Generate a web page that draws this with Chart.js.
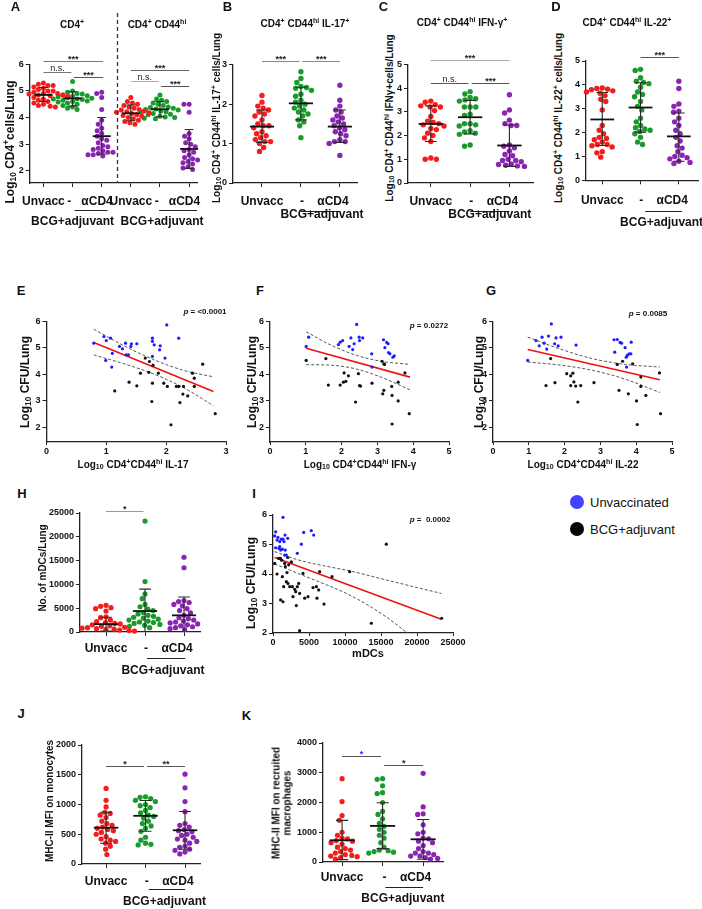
<!DOCTYPE html>
<html lang="en">
<head>
<meta charset="UTF-8">
<title>BCG + adjuvant, CD4 depletion</title>
<script src="https://cdn.jsdelivr.net/npm/chart.js"></script>
<style>
  body { margin: 0; background: #fff; font-family: "Liberation Sans", Arial, sans-serif; }
  #fig { position: relative; width: 702px; height: 909px; overflow: hidden; }
  canvas { position: absolute; }
  .t { position: absolute; z-index: 2; font-weight: bold; white-space: nowrap; line-height: 1; color: #111;
       transform: translate(-50%, -50%); }
  .r { transform: translate(-50%, -50%) rotate(-90deg); text-align: center; }
  .t sup, .t sub { font-size: 70%; line-height: 0; }
  .t sub { vertical-align: -0.2em; }
  .lt { font-size: 13px; }
  .dot { position: absolute; width: 14px; height: 14px; border-radius: 50%; transform: translate(-50%, -50%); }
  .leg { position: absolute; font-size: 13px; transform: translateY(-50%); color: #111; }
</style>
</head>
<body>
<div id="fig">
  <!-- panel letters -->
  <div class="t lt" style="left:15.5px;top:6px">A</div>
  <div class="t lt" style="left:227.5px;top:6px">B</div>
  <div class="t lt" style="left:383.5px;top:6px">C</div>
  <div class="t lt" style="left:556px;top:6px">D</div>
  <div class="t lt" style="left:21px;top:289.5px">E</div>
  <div class="t lt" style="left:260px;top:289.5px">F</div>
  <div class="t lt" style="left:491px;top:289.5px">G</div>
  <div class="t lt" style="left:22px;top:493px">H</div>
  <div class="t lt" style="left:254px;top:493px">I</div>
  <div class="t lt" style="left:21px;top:713px">J</div>
  <div class="t lt" style="left:246.5px;top:714.5px">K</div>

  <!-- titles -->
  <div class="t" style="left:72px;top:25px;font-size:10px">CD4<sup>+</sup></div>
  <div class="t" style="left:157px;top:25px;font-size:10px">CD4<sup>+</sup> CD44<sup>hi</sup></div>
  <div class="t" style="left:305px;top:24px;font-size:10px">CD4<sup>+</sup> CD44<sup>hi</sup> IL-17<sup>+</sup></div>
  <div class="t" style="left:462px;top:23px;font-size:10px">CD4<sup>+</sup> CD44<sup>hi</sup> IFN-γ<sup>+</sup></div>
  <div class="t" style="left:627px;top:23px;font-size:10px">CD4<sup>+</sup> CD44<sup>hi</sup> IL-22<sup>+</sup></div>

  <!-- y axis titles -->
  <div class="t r" style="left:10px;top:142px;font-size:12px">Log<sub>10</sub> CD4<sup>+</sup>cells/Lung</div>
  <div class="t r" style="left:217px;top:118px;font-size:10px">Log<sub>10</sub> CD4<sup>+</sup> CD44<sup>hi</sup> IL-17<sup>+</sup> cells/Lung</div>
  <div class="t r" style="left:390px;top:118px;font-size:10px">Log<sub>10</sub> CD4<sup>+</sup> CD44<sup>hi</sup> IFNγ+cells/Lung</div>
  <div class="t r" style="left:559px;top:118px;font-size:10px">Log<sub>10</sub> CD4<sup>+</sup> CD44<sup>hi</sup> IL-22<sup>+</sup> cells/Lung</div>
  <div class="t r" style="left:25px;top:382px;font-size:12px">Log<sub>10</sub> CFU/Lung</div>
  <div class="t r" style="left:252px;top:382px;font-size:12px">Log<sub>10</sub> CFU/Lung</div>
  <div class="t r" style="left:479px;top:382px;font-size:12px">Log<sub>10</sub> CFU/Lung</div>
  <div class="t r" style="left:251px;top:583px;font-size:12px">Log<sub>10</sub> CFU/Lung</div>
  <div class="t r" style="left:43px;top:568px;font-size:10px">No. of mDCs/Lung</div>
  <div class="t r" style="left:50px;top:801px;font-size:10px">MHC-II MFI on monocytes</div>
  <div class="t r" style="left:282px;top:803px;font-size:10px;line-height:1.05">MHC-II MFI on recruited<br>macrophages</div>

  <!-- x axis titles -->
  <div class="t" style="left:133px;top:465px;font-size:10px">Log<sub>10</sub> CD4<sup>+</sup>CD44<sup>hi</sup> IL-17</div>
  <div class="t" style="left:360px;top:465px;font-size:10px">Log<sub>10</sub> CD4<sup>+</sup>CD44<sup>hi</sup> IFN-γ</div>
  <div class="t" style="left:583px;top:465px;font-size:10px">Log<sub>10</sub> CD4<sup>+</sup>CD44<sup>hi</sup> IL-22</div>
  <div class="t" style="left:368px;top:653px;font-size:11px">mDCs</div>

  <!-- p values -->
  <div class="t" style="left:205px;top:312px;font-size:8px"><i>p</i> = &lt;0.0001</div>
  <div class="t" style="left:429px;top:326px;font-size:8px"><i>p</i> = 0.0272</div>
  <div class="t" style="left:648px;top:314px;font-size:8px"><i>p</i> = 0.0085</div>
  <div class="t" style="left:430px;top:520px;font-size:8px"><i>p</i> =&nbsp; 0.0002</div>

  <!-- legend -->
  <div class="dot" style="left:577px;top:502px;background:#4343ff"></div>
  <div class="leg" style="left:590px;top:502px">Unvaccinated</div>
  <div class="dot" style="left:577px;top:529px;background:#050505"></div>
  <div class="leg" style="left:590px;top:529px">BCG+adjuvant</div>
</div>

<script>
// ---- data ----
const groupColors = ['#f21d1d', '#1a9a2c', '#8a25b2'];

// A: CD4+ and CD4+CD44hi, log10 cells/lung
const aCd4Unvacc = [5.3, 5.25, 5.2, 5.2, 5.15, 5.1, 5.05, 5.0, 5.0, 4.95, 4.9, 4.9, 4.88, 4.85, 4.85, 4.82, 4.8, 4.78, 4.75, 4.7, 4.65, 4.6, 4.55, 4.5, 4.45, 4.42, 4.4, 4.85];
const aCd4Vacc = [5.35, 5.0, 4.95, 4.9, 4.88, 4.85, 4.82, 4.8, 4.78, 4.75, 4.72, 4.7, 4.7, 4.68, 4.65, 4.62, 4.6, 4.58, 4.55, 4.5, 4.45, 4.4, 4.35, 4.3];
const aCd4Anti = [4.95, 4.9, 4.75, 4.3, 3.9, 3.75, 3.6, 3.5, 3.4, 3.3, 3.2, 3.15, 3.05, 2.95, 2.9, 2.85, 2.8, 2.75, 2.7, 2.7, 2.65, 2.6, 2.55, 2.6];
const aHiUnvacc = [4.75, 4.6, 4.55, 4.5, 4.45, 4.4, 4.35, 4.3, 4.28, 4.25, 4.22, 4.2, 4.18, 4.15, 4.1, 4.08, 4.05, 4.0, 3.95, 3.9, 3.85, 3.8, 3.75];
const aHiVacc = [4.85, 4.7, 4.65, 4.6, 4.55, 4.5, 4.45, 4.4, 4.38, 4.35, 4.32, 4.3, 4.28, 4.25, 4.2, 4.15, 4.1, 4.05, 4.0, 3.97, 3.95, 4.02, 4.12, 4.22];
const aHiAnti = [4.5, 4.5, 4.2, 3.4, 3.3, 3.2, 3.05, 3.0, 2.9, 2.8, 2.75, 2.7, 2.6, 2.5, 2.45, 2.4, 2.35, 2.3, 2.25, 2.15, 2.1, 2.05];
const aMean = [4.85, 4.72, 3.3, 4.16, 4.31, 2.82];
const aSdHi = [5.13, 4.97, 4.0, 4.47, 4.6, 3.55];
const aSdLo = [4.6, 4.43, 2.63, 3.88, 4.03, 2.09];

// B: IL-17+
const bUnvacc = [2.22, 2.05, 1.95, 1.9, 1.85, 1.8, 1.75, 1.7, 1.6, 1.5, 1.45, 1.45, 1.4, 1.3, 1.25, 1.2, 1.15, 1.1, 1.05, 1.05, 1.0, 0.9, 0.8];
const bVacc = [2.82, 2.65, 2.55, 2.45, 2.42, 2.4, 2.35, 2.25, 2.2, 2.1, 2.05, 2.0, 1.95, 1.9, 1.85, 1.8, 1.75, 1.7, 1.6, 1.55, 1.45, 1.15];
const bAnti = [2.48, 2.1, 1.95, 1.85, 1.8, 1.7, 1.65, 1.6, 1.55, 1.5, 1.45, 1.4, 1.35, 1.3, 1.25, 1.2, 1.1, 1.05, 1.05, 1.0, 0.7];
const bMean = [1.43, 2.02, 1.43];
const bSdHi = [1.85, 2.43, 1.85];
const bSdLo = [1.03, 1.6, 1.03];

// C: IFN-g+
const cUnvacc = [3.45, 3.4, 3.3, 3.25, 3.2, 3.2, 3.05, 2.8, 2.6, 2.55, 2.5, 2.45, 2.4, 2.3, 2.25, 2.1, 2.0, 1.9, 1.75, 1.05, 1.0, 1.0];
const cVacc = [3.85, 3.75, 3.6, 3.55, 3.5, 3.45, 3.2, 3.2, 3.2, 2.9, 2.85, 2.5, 2.5, 2.45, 2.4, 2.2, 2.15, 2.1, 2.05, 1.6, 1.55];
const cAnti = [3.72, 3.08, 2.95, 2.65, 2.5, 2.42, 2.42, 1.6, 1.55, 1.48, 1.35, 1.2, 1.15, 1.0, 0.95, 0.95, 0.9, 0.8, 0.78, 0.72, 0.75, 0.7];
const cMean = [2.49, 2.77, 1.58];
const cSdHi = [3.25, 3.48, 2.44];
const cSdLo = [1.75, 2.07, 0.7];

// D: IL-22+
const dUnvacc = [3.87, 3.85, 3.82, 3.8, 3.75, 3.7, 3.65, 3.55, 3.4, 3.3, 2.95, 2.3, 2.1, 1.95, 1.8, 1.75, 1.7, 1.6, 1.5, 1.5, 1.45, 1.4, 1.2, 1.15, 0.97];
const dVacc = [4.65, 4.6, 4.3, 4.15, 4.1, 4.05, 3.9, 3.7, 3.6, 3.5, 3.3, 3.1, 2.95, 2.6, 2.45, 2.3, 2.2, 2.15, 2.1, 2.05, 1.95, 1.8, 1.6, 1.5];
const dAnti = [4.15, 3.85, 3.2, 3.1, 2.9, 2.85, 2.6, 2.45, 2.3, 2.1, 1.95, 1.8, 1.65, 1.45, 1.35, 1.2, 1.05, 1.0, 0.95, 0.9, 0.8, 0.75, 0.7];
const dMean = [2.55, 3.05, 1.84];
const dSdHi = [3.68, 4.09, 2.82];
const dSdLo = [1.46, 2.02, 0.8];

// E-G: CFU vs cytokine+ cells
const eBlueX = [0.79, 0.96, 1.0, 1.07, 1.10, 0.99, 1.09, 1.22, 1.27, 1.32, 1.41, 1.42, 1.51, 1.37, 1.77, 1.77, 1.80, 1.90, 1.89, 1.77, 1.98, 2.01, 2.21, 1.33];
const eBlueY = [5.18, 5.43, 5.28, 5.37, 4.80, 4.53, 4.28, 5.06, 4.97, 5.18, 5.06, 5.16, 5.16, 4.74, 5.37, 5.25, 5.12, 5.08, 4.93, 4.68, 4.62, 5.87, 5.37, 4.74];
const eBlackX = [1.14, 1.38, 1.51, 1.57, 1.65, 1.72, 1.71, 1.78, 1.77, 1.76, 1.87, 1.96, 2.02, 2.08, 2.17, 2.21, 2.29, 2.28, 2.23, 2.36, 2.44, 2.47, 2.47, 2.61, 2.82];
const eBlackY = [3.38, 3.71, 3.57, 4.05, 4.62, 4.49, 4.08, 4.35, 3.67, 2.98, 4.05, 3.67, 3.55, 2.10, 3.55, 3.55, 3.55, 3.26, 2.94, 3.19, 4.05, 3.86, 3.55, 4.39, 2.52];
const eFitX = [0.79, 2.79];
const eFitY = [5.21, 3.36];
const eBandX = [0.79, 1.3, 1.8, 2.3, 2.79];
const eUpperY = [5.71, 5.08, 4.55, 4.15, 3.91];
const eLowerY = [4.74, 4.40, 4.01, 3.49, 2.82];

const fBlueX = [1.01, 1.08, 1.91, 1.96, 2.03, 2.21, 2.26, 2.31, 2.35, 2.42, 2.49, 2.50, 2.59, 2.84, 2.85, 3.17, 3.21, 3.26, 3.30, 3.31, 3.35, 3.43, 3.47];
const fBlueY = [5.06, 5.41, 5.13, 5.22, 5.28, 5.06, 5.38, 4.94, 5.16, 5.89, 5.41, 5.28, 5.38, 4.78, 4.28, 5.31, 5.01, 5.21, 5.16, 4.83, 4.78, 4.65, 4.70];
const fBlackX = [1.01, 1.56, 1.63, 1.96, 2.05, 2.07, 2.12, 2.19, 2.39, 2.47, 2.50, 2.53, 2.85, 3.13, 3.18, 3.20, 3.18, 3.15, 3.40, 3.41, 3.41, 3.58, 3.58, 3.77, 3.89];
const fBlackY = [4.53, 4.60, 3.60, 3.60, 3.71, 4.06, 3.74, 3.95, 2.96, 4.03, 3.58, 3.56, 3.67, 4.50, 4.40, 4.38, 3.40, 3.27, 3.55, 3.21, 2.13, 3.71, 3.00, 4.06, 2.52];
const fFitX = [1.01, 3.91];
const fFitY = [4.99, 3.90];
const fBandX = [1.01, 1.7, 2.4, 3.1, 3.91];
const fUpperY = [5.61, 5.11, 4.73, 4.50, 4.38];
const fLowerY = [4.37, 4.35, 4.21, 3.90, 3.42];

const gBlueX = [0.97, 1.20, 1.29, 1.37, 1.43, 1.50, 1.55, 1.63, 1.72, 1.76, 1.82, 1.90, 2.32, 3.38, 3.47, 3.40, 3.55, 3.59, 3.69, 3.72, 3.75, 3.80, 3.85, 3.86, 3.73];
const gBlueY = [4.53, 5.28, 5.08, 5.41, 5.18, 4.96, 5.45, 5.91, 5.16, 5.38, 5.08, 5.41, 5.11, 5.31, 5.32, 4.84, 5.21, 5.18, 5.01, 4.65, 4.72, 4.78, 4.78, 5.22, 4.28];
const gBlackX = [1.48, 1.61, 1.73, 2.06, 2.17, 2.23, 2.17, 2.26, 2.31, 2.45, 2.37, 2.82, 3.47, 3.62, 3.90, 3.52, 3.78, 4.01, 4.03, 4.13, 4.13, 4.27, 4.65, 4.68];
const gBlackY = [3.58, 4.60, 3.69, 4.03, 3.95, 4.05, 3.58, 3.72, 3.56, 3.58, 2.96, 3.69, 4.38, 4.50, 4.40, 3.40, 3.27, 3.00, 2.11, 3.90, 3.55, 3.21, 4.06, 2.52];
const gFitX = [0.97, 4.66];
const gFitY = [4.94, 3.80];
const gBandX = [0.97, 1.9, 2.8, 3.7, 4.66];
const gUpperY = [5.41, 4.95, 4.59, 4.38, 4.28];
const gLowerY = [4.47, 4.35, 4.15, 3.82, 3.32];

// H: mDCs per lung
const hUnvacc = [5600, 5400, 5100, 4900, 4400, 3200, 3000, 2500, 2200, 2000, 1800, 1700, 1500, 1300, 1200, 1000, 900, 800, 700, 600, 500, 400, 300, 200];
const hVacc = [23300, 10600, 8000, 7000, 5800, 5300, 4800, 4500, 4100, 3800, 3500, 3300, 3100, 2900, 2700, 2500, 2300, 2100, 2000, 1800, 1600, 1400, 1200, 900];
const hAnti = [15700, 13500, 6600, 6400, 6200, 5800, 5500, 4900, 4500, 4000, 3500, 3000, 2800, 2500, 2300, 2100, 1900, 1700, 1500, 1300, 1100, 900, 700, 500];
const hMean = [1650, 4400, 3500];
const hSdHi = [3100, 9000, 7350];
const hSdLo = [200, 0, 0];

// I: CFU vs mDCs
const iBlueX = [230, 370, 690, 830, 930, 1060, 1160, 1300, 1390, 1390, 1530, 1620, 1670, 1710, 1850, 2040, 3380, 3940, 4260, 5320, 5650, 930, 370, 560];
const iBlueY = [5.29, 5.43, 5.24, 4.87, 5.10, 4.81, 5.18, 4.84, 5.92, 5.18, 5.10, 4.64, 5.32, 4.81, 4.64, 5.21, 4.70, 5.01, 5.41, 5.47, 5.32, 4.93, 4.89, 5.15];
const iBlackX = [230, 560, 790, 1020, 1060, 1200, 1300, 1390, 1480, 1620, 1710, 1850, 1940, 2040, 2080, 2180, 2320, 2550, 2690, 2780, 3010, 3150, 3240, 3380, 3570, 3700, 3700, 4170, 4400, 4860, 5560, 6020, 6110, 6340, 6480, 7080, 8200, 10650, 13660, 15740, 23430];
const iBlackY = [4.36, 4.0, 4.53, 4.53, 3.12, 4.47, 3.91, 3.06, 3.57, 4.36, 4.25, 3.74, 4.05, 4.56, 3.68, 4.31, 3.57, 4.41, 3.57, 3.23, 3.48, 3.40, 2.93, 3.57, 3.68, 2.08, 3.34, 4.02, 3.18, 3.23, 3.54, 3.57, 3.18, 3.46, 4.08, 2.98, 3.91, 4.08, 2.33, 5.01, 2.50];
const iFitX = [230, 23380];
const iFitY = [4.56, 2.47];
const iUpperX = [230, 3470, 11100, 15700, 23380];
const iUpperY = [4.76, 4.48, 4.08, 3.80, 3.34];
const iLowerX = [230, 3470, 11100, 15700, 18750, 21000];
const iLowerY = [4.34, 4.02, 3.23, 2.55, 1.99, 1.62];

// J, K: MHC-II MFI
const jUnvacc = [1270, 1070, 960, 870, 850, 820, 780, 720, 680, 650, 620, 600, 580, 560, 530, 500, 460, 420, 400, 380, 350, 300, 250, 160];
const jVacc = [1130, 1120, 1100, 1070, 1050, 1000, 980, 950, 900, 860, 820, 800, 770, 720, 680, 640, 600, 550, 450, 400, 350, 330, 320];
const jAnti = [1510, 1280, 1050, 880, 680, 650, 620, 580, 560, 540, 500, 480, 450, 420, 400, 380, 350, 300, 280, 250, 230, 200, 170];
const jMean = [610, 810, 567];
const jSdHi = [870, 1068, 882];
const jSdLo = [350, 551, 247];

const kUnvacc = [2800, 2030, 1560, 1400, 1000, 900, 800, 780, 720, 700, 650, 600, 500, 450, 400, 350, 300, 250, 220, 200, 180, 150, 100];
const kVacc = [2800, 2780, 2560, 2330, 2300, 2000, 1700, 1600, 1450, 1300, 1200, 1100, 1000, 900, 800, 650, 500, 400, 380, 350, 330, 300];
const kAnti = [2980, 1850, 1620, 1600, 1250, 1000, 950, 800, 780, 700, 650, 550, 450, 350, 300, 300, 250, 200, 200, 150, 120, 100];
const kMean = [730, 1213, 764];
const kSdHi = [1400, 1990, 1427];
const kSdLo = [80, 450, 90];

// ---- drawing ----
Chart.defaults.font.family = '"Liberation Sans", Arial, sans-serif';
Chart.defaults.font.weight = 'bold';
Chart.defaults.color = '#111';

const NB = '\u00a0';
const antiLabel = '-' + NB.repeat(4) + 'αCD4';

function pts(xs, ys) { return xs.map((x, i) => ({ x, y: ys[i] })); }

function mount(box) {
  const cv = document.createElement('canvas');
  cv.width = box[2]; cv.height = box[3];
  cv.style.left = box[0] + 'px'; cv.style.top = box[1] + 'px';
  document.getElementById('fig').appendChild(cv);
  return cv;
}

// spread the dots of one column sideways so they don't overlap (beeswarm)
function swarm(vals, x0, pxX, pxY, r) {
  const d = 2 * r + 0.3;
  const placed = [];
  const out = new Array(vals.length);
  const order = vals.map((v, i) => i).sort((a, b) => vals[b] - vals[a]);
  order.forEach(i => {
    const y = vals[i] * pxY;
    const cands = [0];
    placed.forEach(p => {
      const dy = Math.abs(p.y - y);
      if (dy < d) { const w = Math.sqrt(d * d - dy * dy); cands.push(p.x - w, p.x + w); }
    });
    cands.sort((a, b) => Math.abs(a) - Math.abs(b));
    let best = 0;
    for (const c of cands) {
      if (placed.every(p => (p.x - c) ** 2 + (p.y - y) ** 2 >= d * d - 0.01)) { best = c; break; }
    }
    placed.push({ x: best, y });
    out[i] = { x: x0 + best / pxX, y: vals[i] };
  });
  return out;
}

function yAxis(c, width) {
  return {
    type: 'linear', min: c.yMin, max: c.yMax,
    afterFit: s => { s.width = width; },
    afterBuildTicks: s => { s.ticks = c.yTicks.map(v => ({ value: v })); },
    ticks: { font: { size: 9, weight: 'bold' }, color: '#111', padding: 2, callback: v => String(v) },
    grid: { drawOnChartArea: false, tickLength: 4, color: '#222', lineWidth: 1 },
    border: { color: '#222', width: 1.3 }
  };
}

function baseOptions(c, xScale) {
  const [bl, bt, bw, bh] = c.box, [L, T, R, B] = c.area;
  xScale.afterFit = s => { s.height = bt + bh - B; };
  return {
    responsive: false, animation: false, events: [],
    layout: { padding: { left: 0, top: T - bt, right: bl + bw - R, bottom: 0 } },
    plugins: { legend: { display: false }, tooltip: { enabled: false } },
    scales: { x: xScale, y: yAxis(c, L - bl) }
  };
}

function dotDecor(c) {
  return {
    id: 'dotDecor',
    afterDraw(chart) {
      const { ctx, chartArea, scales: { x, y } } = chart;
      const sp = x.getPixelForValue(2) - x.getPixelForValue(1);
      ctx.save();
      if (c.divider) {
        const dx = Math.round(x.getPixelForValue(c.divider.x)) + 0.5;
        ctx.strokeStyle = '#333'; ctx.lineWidth = 1.3; ctx.setLineDash([4, 3]);
        ctx.beginPath(); ctx.moveTo(dx, y.getPixelForValue(c.divider.y)); ctx.lineTo(dx, chartArea.bottom); ctx.stroke();
        ctx.setLineDash([]);
      }
      // mean +/- SD
      c.pos.forEach((xv, i) => {
        const cx = x.getPixelForValue(xv);
        const half = sp * 0.31, cap = sp * 0.15;
        const yh = y.getPixelForValue(c.hi[i]);
        const yl = y.getPixelForValue(Math.max(c.lo[i], c.yMin));
        ctx.strokeStyle = '#2a2a2a'; ctx.lineWidth = 1.1;
        ctx.beginPath();
        ctx.moveTo(cx, yh); ctx.lineTo(cx, yl);
        ctx.moveTo(cx - cap, yh); ctx.lineTo(cx + cap, yh);
        if (c.lo[i] > c.yMin) { ctx.moveTo(cx - cap, yl); ctx.lineTo(cx + cap, yl); }
        ctx.stroke();
        const ym = y.getPixelForValue(c.mean[i]);
        ctx.strokeStyle = '#111'; ctx.lineWidth = 1.8;
        ctx.beginPath(); ctx.moveTo(cx - half, ym); ctx.lineTo(cx + half, ym); ctx.stroke();
      });
      // significance bars
      ctx.textAlign = 'center'; ctx.textBaseline = 'alphabetic';
      c.sig.forEach(s => {
        const x1 = x.getPixelForValue(s.a), x2 = x.getPixelForValue(s.b);
        const yy = Math.round(y.getPixelForValue(s.y)) + 0.5;
        ctx.strokeStyle = s.col || '#555'; ctx.lineWidth = 1;
        ctx.beginPath(); ctx.moveTo(x1, yy); ctx.lineTo(x2, yy); ctx.stroke();
        ctx.fillStyle = s.tcol || '#222';
        ctx.font = (s.t === 'n.s.' ? '9px' : 'bold 9px') + ' "Liberation Sans", Arial, sans-serif';
        ctx.fillText(s.t, (x1 + x2) / 2, yy - (s.t === 'n.s.' ? 2 : 0));
      });
      // group bracket "BCG+adjuvant"
      ctx.strokeStyle = '#222'; ctx.lineWidth = 1.2;
      c.under.forEach(u => {
        const uy = Math.round(chartArea.bottom + c.underDy) + 0.5;
        ctx.beginPath(); ctx.moveTo(x.getPixelForValue(u[0]), uy); ctx.lineTo(x.getPixelForValue(u[1]), uy); ctx.stroke();
      });
      ctx.fillStyle = '#111'; ctx.textBaseline = 'middle';
      ctx.font = 'bold 12px "Liberation Sans", Arial, sans-serif';
      c.bcg.forEach(bx => ctx.fillText('BCG+adjuvant', x.getPixelForValue(bx), chartArea.bottom + c.bcgDy));
      ctx.restore();
    }
  };
}

function dotPanel(c) {
  const [L, T, R, B] = c.area;
  const pxX = (R - L) / (c.xMax - c.xMin), pxY = (B - T) / (c.yMax - c.yMin);
  const datasets = c.groups.map((vals, i) => ({
    data: swarm(vals, c.pos[i], pxX, pxY, c.r),
    backgroundColor: groupColors[i % 3], pointRadius: c.r, borderWidth: 0, clip: false
  }));
  const xScale = {
    type: 'linear', min: c.xMin, max: c.xMax,
    afterBuildTicks: s => { s.ticks = c.tickPos.map(v => ({ value: v })); },
    ticks: { autoSkip: false, maxRotation: 0, minRotation: 0, font: { size: 12, weight: 'bold' }, color: '#111',
             padding: c.labelPad, callback: (v, i) => c.tickText[i] },
    grid: { drawOnChartArea: false, tickLength: 4, lineWidth: 1, color: '#222',
            tickColor: ctx => (ctx.tick && c.pos.includes(ctx.tick.value)) ? '#222' : 'rgba(0,0,0,0)' },
    border: { color: '#222', width: 1.3 }
  };
  new Chart(mount(c.box), {
    type: 'scatter',
    data: { datasets },
    options: baseOptions(c, xScale),
    plugins: [dotDecor(c)]
  });
}

function scatterPanel(c) {
  const xScale = {
    type: 'linear', min: c.xMin, max: c.xMax,
    afterBuildTicks: s => { s.ticks = c.xTicks.map(v => ({ value: v })); },
    ticks: { autoSkip: false, maxRotation: 0, font: { size: 9, weight: 'bold' }, color: '#111', padding: 1, callback: v => String(v) },
    grid: { drawOnChartArea: false, tickLength: 3, color: '#222', lineWidth: 1 },
    border: { color: '#222', width: 1.3 }
  };
  const band = { showLine: true, borderColor: '#444', borderWidth: 0.9, borderDash: [3, 2], pointRadius: 0, cubicInterpolationMode: 'monotone' };
  new Chart(mount(c.box), {
    type: 'scatter',
    data: { datasets: [
      { data: pts(c.blueX, c.blueY), backgroundColor: '#1c1cff', pointRadius: 1.6, borderWidth: 0, clip: false },
      { data: pts(c.blackX, c.blackY), backgroundColor: '#111', pointRadius: 1.6, borderWidth: 0, clip: false },
      { data: pts(c.fitX, c.fitY), showLine: true, borderColor: '#f01212', borderWidth: 1.6, pointRadius: 0 },
      Object.assign({ data: pts(c.upX, c.upY) }, band),
      Object.assign({ data: pts(c.loX, c.loY) }, band)
    ] },
    options: baseOptions(c, xScale)
  });
}

const sixPos = [1, 2, 3, 4, 5, 6];
const threePos = [1, 2, 3];
const threeTicks = [1, 2, 2.6, 3];
const threeText = ['Unvacc', '', antiLabel, ''];

dotPanel({
  box: [14, 8, 191, 227], area: [27, 64.3, 197, 183],
  xMin: 0.527, xMax: 6.27, yMin: 1.54, yMax: 6, yTicks: [2, 3, 4, 5, 6], r: 2.5,
  groups: [aCd4Unvacc, aCd4Vacc, aCd4Anti, aHiUnvacc, aHiVacc, aHiAnti], pos: sixPos,
  mean: aMean, hi: aSdHi, lo: aSdLo,
  tickPos: [1, 2, 2.6, 3, 4, 5, 5.6, 6],
  tickText: ['Unvacc', '', '-' + NB.repeat(3) + 'αCD4', '', 'Unvacc', '', '-' + NB.repeat(3) + 'αCD4', ''],
  labelPad: 7,
  sig: [
    { a: 1, b: 3.05, y: 6.12, t: '***', col: '#777' },
    { a: 1, b: 1.96, y: 5.71, t: 'n.s.', col: '#777' },
    { a: 2.04, b: 3.05, y: 5.52, t: '***', col: '#555' },
    { a: 4, b: 6, y: 5.79, t: '***', col: '#666' },
    { a: 4, b: 4.96, y: 5.37, t: 'n.s.', col: '#aaa' },
    { a: 5.04, b: 6, y: 5.18, t: '***', col: '#555' }
  ],
  under: [[2.07, 3.2], [4.97, 6.27]], underDy: 27, bcg: [2.0, 5.07], bcgDy: 39,
  divider: { x: 3.53, y: 7.93 }
});

dotPanel({
  box: [222, 30, 150, 205], area: [233, 64.7, 357, 183],
  xMin: 0.256, xMax: 3.44, yMin: 0, yMax: 3, yTicks: [0, 1, 2, 3], r: 2.7,
  groups: [bUnvacc, bVacc, bAnti], pos: threePos, mean: bMean, hi: bSdHi, lo: bSdLo,
  tickPos: threeTicks, tickText: threeText, labelPad: 7,
  sig: [
    { a: 1, b: 1.96, y: 3.09, t: '***', col: '#888' },
    { a: 2.04, b: 3, y: 3.09, t: '***', col: '#888' }
  ],
  under: [[2, 3]], underDy: 28, bcg: [2.54], bcgDy: 32
});

dotPanel({
  box: [396, 30, 149, 205], area: [408, 64.3, 533, 183],
  xMin: 0.42, xMax: 3.6, yMin: 0, yMax: 5, yTicks: [0, 1, 2, 3, 4, 5], r: 2.7,
  groups: [cUnvacc, cVacc, cAnti], pos: threePos, mean: cMean, hi: cSdHi, lo: cSdLo,
  tickPos: threeTicks, tickText: threeText, labelPad: 7,
  sig: [
    { a: 1, b: 3, y: 5.17, t: '***', col: '#aaa' },
    { a: 1, b: 1.96, y: 4.2, t: 'n.s.', col: '#555' },
    { a: 2.04, b: 3, y: 4.2, t: '***', col: '#555' }
  ],
  under: [[2, 3]], underDy: 28, bcg: [2.5], bcgDy: 32
});

dotPanel({
  box: [570, 30, 132, 205], area: [583, 61, 700, 180.3],
  xMin: 0.575, xMax: 3.5, yMin: 0, yMax: 5, yTicks: [0, 1, 2, 3, 4, 5], r: 2.7,
  groups: [dUnvacc, dVacc, dAnti], pos: threePos, mean: dMean, hi: dSdHi, lo: dSdLo,
  tickPos: threeTicks, tickText: threeText, labelPad: 9,
  sig: [{ a: 2, b: 3, y: 5.17, t: '***', col: '#555' }],
  under: [[2.12, 3.08]], underDy: 31, bcg: [2.55], bcgDy: 42
});

scatterPanel({
  box: [30, 300, 205, 160], area: [46.5, 321.5, 226, 442],
  xMin: 0, xMax: 3, xTicks: [0, 1, 2, 3], yMin: 1.45, yMax: 6, yTicks: [2, 3, 4, 5, 6],
  blueX: eBlueX, blueY: eBlueY, blackX: eBlackX, blackY: eBlackY,
  fitX: eFitX, fitY: eFitY, upX: eBandX, upY: eUpperY, loX: eBandX, loY: eLowerY
});

scatterPanel({
  box: [255, 300, 205, 160], area: [270, 321.5, 449, 442],
  xMin: 0, xMax: 5, xTicks: [0, 1, 2, 3, 4, 5], yMin: 1.45, yMax: 6, yTicks: [2, 3, 4, 5, 6],
  blueX: fBlueX, blueY: fBlueY, blackX: fBlackX, blackY: fBlackY,
  fitX: fFitX, fitY: fFitY, upX: fBandX, upY: fUpperY, loX: fBandX, loY: fLowerY
});

scatterPanel({
  box: [478, 300, 222, 160], area: [493, 321.5, 672, 442],
  xMin: 0, xMax: 5, xTicks: [0, 1, 2, 3, 4, 5], yMin: 1.45, yMax: 6, yTicks: [2, 3, 4, 5, 6],
  blueX: gBlueX, blueY: gBlueY, blackX: gBlackX, blackY: gBlackY,
  fitX: gFitX, fitY: gFitY, upX: gBandX, upY: gUpperY, loX: gBandX, loY: gLowerY
});

dotPanel({
  box: [45, 500, 185, 185], area: [80, 513, 200, 632],
  xMin: 0.333, xMax: 3.41, yMin: 0, yMax: 25000, yTicks: [0, 5000, 10000, 15000, 20000, 25000], r: 2.6,
  groups: [hUnvacc, hVacc, hAnti], pos: threePos, mean: hMean, hi: hSdHi, lo: hSdLo,
  tickPos: threeTicks, tickText: threeText, labelPad: 5,
  sig: [{ a: 1, b: 1.96, y: 25420, t: '*', col: '#999' }],
  under: [[2.05, 3.03]], underDy: 26, bcg: [2.46], bcgDy: 39
});

scatterPanel({
  box: [240, 505, 230, 160], area: [273, 515, 453, 633],
  xMin: 0, xMax: 25000, xTicks: [0, 5000, 10000, 15000, 20000, 25000], yMin: 2, yMax: 6, yTicks: [2, 3, 4, 5, 6],
  blueX: iBlueX, blueY: iBlueY, blackX: iBlackX, blackY: iBlackY,
  fitX: iFitX, fitY: iFitY, upX: iUpperX, upY: iUpperY, loX: iLowerX, loY: iLowerY
});

dotPanel({
  box: [50, 735, 180, 174], area: [82, 745, 200, 864],
  xMin: 0.39, xMax: 3.38, yMin: 0, yMax: 2000, yTicks: [0, 500, 1000, 1500, 2000], r: 2.6,
  groups: [jUnvacc, jVacc, jAnti], pos: threePos, mean: jMean, hi: jSdHi, lo: jSdLo,
  tickPos: threeTicks, tickText: threeText, labelPad: 6,
  sig: [
    { a: 1, b: 1.96, y: 1646, t: '*', col: '#555' },
    { a: 2.04, b: 3, y: 1646, t: '**', col: '#555' }
  ],
  under: [[2.08, 3.0]], underDy: 25, bcg: [2.48], bcgDy: 38
});

dotPanel({
  box: [290, 735, 180, 174], area: [323, 743, 443, 862],
  xMin: 0.53, xMax: 3.49, yMin: 0, yMax: 4000, yTicks: [0, 1000, 2000, 3000, 4000], r: 2.6,
  groups: [kUnvacc, kVacc, kAnti], pos: threePos, mean: kMean, hi: kSdHi, lo: kSdLo,
  tickPos: threeTicks, tickText: threeText, labelPad: 4,
  sig: [
    { a: 1, b: 1.96, y: 3564, t: '*', col: '#555', tcol: '#2b2bff' },
    { a: 2.04, b: 3, y: 3262, t: '*', col: '#555' }
  ],
  under: [[2.07, 3.0]], underDy: 25, bcg: [2.5], bcgDy: 37
});
</script>
</body>
</html>
